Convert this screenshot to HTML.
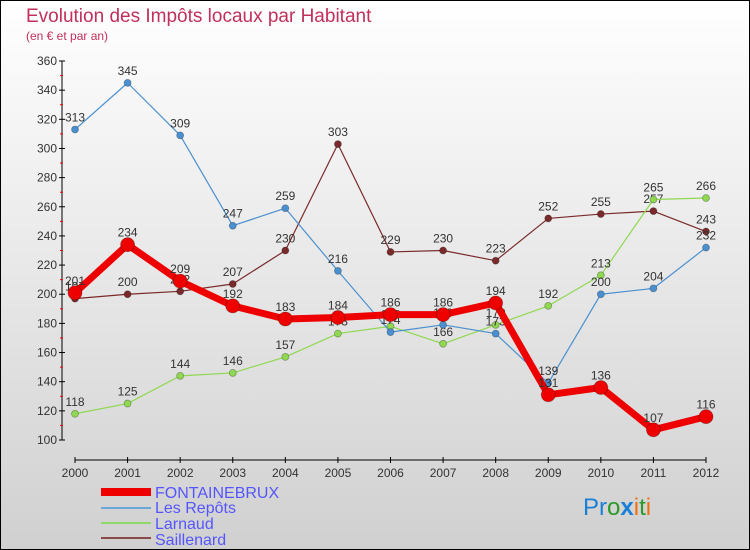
<!DOCTYPE html>
<html><head><meta charset="utf-8"><style>
body{margin:0;width:750px;height:550px;overflow:hidden;font-family:"Liberation Sans",sans-serif}
svg{display:block}
</style></head><body>
<svg id="c" width="750" height="550" viewBox="0 0 750 550">
<defs><linearGradient id="bg" x1="0" y1="0" x2="0" y2="1"><stop offset="0" stop-color="#ffffff"/><stop offset="1" stop-color="#d0d0d0"/></linearGradient></defs>
<rect x="0.5" y="0.5" width="749" height="549" fill="url(#bg)" stroke="#000"/>
<text x="26" y="22" font-size="19" fill="#c0305a">Evolution des Impôts locaux par Habitant</text>
<text x="26" y="40" font-size="12" fill="#c0305a">(en € et par an)</text>
<g id="axes"></g><g id="series"></g>
<g font-size="16" fill="#5555ff">
<rect x="101" y="488" width="50" height="8" fill="#e00"/>
<text x="155" y="498">FONTAINEBRUX</text>
<rect x="101" y="507" width="50" height="2" fill="#6aa8d8"/>
<text x="155" y="513">Les Repôts</text>
<rect x="101" y="522" width="50" height="2" fill="#8fd86a"/>
<text x="155" y="529">Larnaud</text>
<rect x="101" y="537" width="50" height="2" fill="#8a4a4a"/>
<text x="155" y="545">Saillenard</text>
</g>
<text x="583" y="515" font-size="24" font-family="'Liberation Sans',sans-serif"><tspan fill="#1a7fd6">Pr</tspan><tspan fill="#2a9a2a">o</tspan><tspan fill="#1a7fd6" font-weight="bold">x</tspan><tspan fill="#f07010">i</tspan><tspan fill="#2a9a2a">t</tspan><tspan fill="#f07010">i</tspan></text>
</svg>
<script>
const years=[2000,2001,2002,2003,2004,2005,2006,2007,2008,2009,2010,2011,2012];
const yTicks=[100,120,140,160,180,200,220,240,260,280,300,320,340,360];
const fontainebrux=[201,234,209,192,183,184,186,186,194,131,136,107,116];
const lesRepots=[313,345,309,247,259,216,174,179,173,139,200,204,232];
const larnaud=[118,125,144,146,157,173,178,166,179,192,213,265,266];
const saillenard=[197,200,202,207,230,303,229,230,223,252,255,257,243];
const NS="http://www.w3.org/2000/svg";
const X=i=>75+i*(706-75)/(years.length-1);
const Y=v=>440-(v-100)*(440-61)/260;
function mk(tag,attrs,parent){const e=document.createElementNS(NS,tag);for(const k in attrs)e.setAttribute(k,attrs[k]);parent.appendChild(e);return e;}
const ax=document.getElementById('axes');
let l=mk('line',{x1:62,y1:61,x2:62,y2:440,stroke:'#000'},ax);


l=mk('line',{x1:75,y1:460,x2:706,y2:460,stroke:'#000'},ax);


yTicks.forEach((v,i)=>{
  mk('line',{x1:59,y1:Y(v),x2:65,y2:Y(v),stroke:'#000'},ax);
  if(i<yTicks.length-1)mk('line',{x1:60,y1:Y(v+10),x2:63,y2:Y(v+10),stroke:'#e00'},ax);
  const t=mk('text',{x:57,y:Y(v)+4,'font-size':12,'text-anchor':'end',fill:'#333'},ax);
  t.textContent=v;
  
  
});
years.forEach((yr,i)=>{
  mk('line',{x1:X(i),y1:457,x2:X(i),y2:463,stroke:'#000'},ax);
  const t=mk('text',{x:X(i),y:477,'font-size':12,'text-anchor':'middle',fill:'#333'},ax);
  t.textContent=yr;
  
  
});
const sg=document.getElementById('series');
function draw(vals,name,color,w,r){
  const g=mk('g',{},sg);
  
  
  const p=mk('polyline',{points:vals.map((v,i)=>X(i)+','+Y(v)).join(' '),fill:'none',stroke:color,'stroke-width':w,'stroke-linejoin':'round'},g);
  
  
  vals.forEach((v,i)=>{
    const c=mk('circle',{cx:X(i),cy:Y(v),r:r,fill:color,stroke:'rgba(0,0,0,0.3)','stroke-width':0.8},g);
    
    
    const t=mk('text',{x:X(i),y:Y(v)-8,'font-size':12,'text-anchor':'middle',fill:'#333'},g);
    t.textContent=v;
    
    
  });
}
draw(saillenard,'saillenard','#7a2a2a',1.2,3.5);
draw(larnaud,'larnaud','#8fd850',1.2,3.5);
draw(lesRepots,'les-repots','#4a90d0',1.2,3.5);
draw(fontainebrux,'fontainebrux','#ee0000',7,7);
</script>
</body></html>
